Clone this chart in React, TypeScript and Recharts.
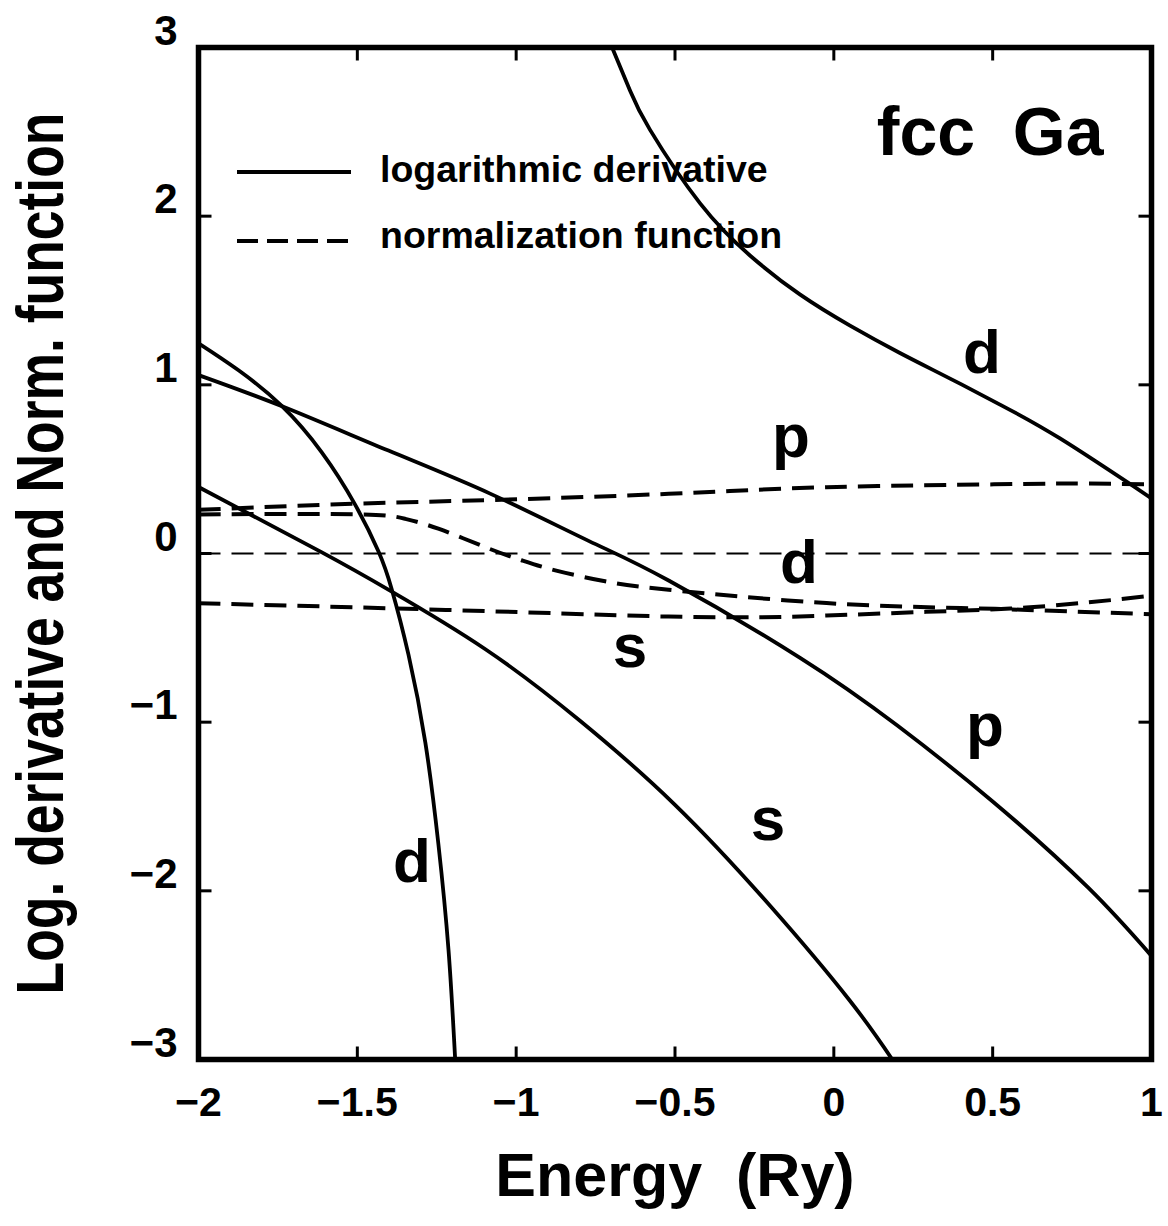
import React from 'react';
import { LineChart, Line, XAxis, YAxis, ReferenceLine, ReferenceDot, ReferenceArea } from 'recharts';

const FONT = '"Liberation Sans", Arial, Helvetica, sans-serif';

// axis settings
const X_DOMAIN: [number, number] = [-2, 1];
const Y_DOMAIN: [number, number] = [-3, 3];
const X_TICKS = [-2, -1.5, -1, -0.5, 0, 0.5, 1];
const Y_TICKS = [-3, -2, -1, 0, 1, 2, 3];

// logarithmic derivatives [energy (Ry), value]
const logDerivDUpper: [number, number][] = [
  [-0.698, 3.0], [-0.642, 2.747], [-0.579, 2.513], [-0.421, 2.076], [-0.264, 1.767],
  [-0.107, 1.536], [0.051, 1.351], [0.208, 1.189], [0.366, 1.037], [0.523, 0.883],
  [0.712, 0.682], [1.0, 0.327],
];
const logDerivDLower: [number, number][] = [
  [-2.0, 1.246], [-1.874, 1.086], [-1.738, 0.875], [-1.612, 0.6], [-1.507, 0.29],
  [-1.433, 0.01], [-1.392, -0.21], [-1.339, -0.6], [-1.286, -1.12],
  [-1.245, -1.72], [-1.213, -2.35], [-1.192, -3.0],
];
const logDerivP: [number, number][] = [
  [-2.0, 1.058], [-1.733, 0.87], [-1.402, 0.61], [-1.082, 0.355], [-0.772, 0.075],
  [-0.52, -0.16], [-0.105, -0.62], [0.2, -1.02], [0.5, -1.47], [0.8, -1.98], [1.0, -2.386],
];
const logDerivS: [number, number][] = [
  [-2.0, 0.394], [-1.613, 0.008], [-1.397, -0.22], [-1.098, -0.566], [-0.8, -0.99],
  [-0.5, -1.49], [-0.2, -2.09], [0.05, -2.65], [0.184, -3.0],
];

// normalization functions [energy (Ry), value]
const normP: [number, number][] = [
  [-2.0, 0.259], [-1.507, 0.295], [-1.046, 0.319], [-0.52, 0.354], [-0.023, 0.393],
  [0.504, 0.41], [0.75, 0.415], [1.0, 0.41],
];
const normD: [number, number][] = [
  [-2.0, 0.231], [-1.507, 0.233], [-1.35, 0.206], [-1.245, 0.147], [-1.087, 0.03],
  [-0.983, -0.04], [-0.877, -0.1], [-0.72, -0.165], [-0.52, -0.215],
  [-0.023, -0.294], [0.4, -0.323], [0.61, -0.335], [1.0, -0.36],
];
const normS: [number, number][] = [
  [-2.0, -0.295], [-1.507, -0.319], [-0.983, -0.348], [-0.52, -0.374], [-0.235, -0.378],
  [-0.023, -0.368], [0.29, -0.346], [0.556, -0.326], [0.8, -0.29], [1.0, -0.25],
];

// curve annotations [text, energy, value(baseline)]
const annotations: [string, number, number][] = [
  ['d', 0.466, 1.07],
  ['p', -0.135, 0.572],
  ['d', -0.11, -0.175],
  ['s', -0.642, -0.673],
  ['p', 0.476, -1.141],
  ['s', -0.207, -1.698],
  ['d', -1.328, -1.948],
];
const titleText = 'fcc  Ga';
const titlePos: [number, number] = [0.492, 2.363];

const legendItems = ['logarithmic derivative', 'normalization function'];
const xTitle = 'Energy  (Ry)';
const yTitle = 'Log. derivative and Norm. function';

const toPts = (arr: [number, number][]) => arr.map(([e, v]) => ({ e, v }));

const fmt = (v: number) => (v < 0 ? '\u2212' + String(Math.abs(v)) : String(v));

const XTick = (props: any) => {
  const { x, y, payload } = props;
  const v = payload.value;
  const edge = v === X_DOMAIN[0] || v === X_DOMAIN[1];
  return (
    <g>
      {!edge && <line x1={x} x2={x} y1={y} y2={y - 13} stroke="#000" strokeWidth={3} />}
      <text x={x} y={y + 56} textAnchor="middle" fontSize={41} fontWeight="bold" fontFamily={FONT} fill="#000">
        {fmt(v)}
      </text>
    </g>
  );
};

const YTick = (props: any) => {
  const { x, y, payload } = props;
  const v = payload.value;
  const edge = v === Y_DOMAIN[0] || v === Y_DOMAIN[1];
  return (
    <g>
      {!edge && <line x1={x} x2={x + 13} y1={y} y2={y} stroke="#000" strokeWidth={3} />}
      <text x={x - 21} y={y - 3} textAnchor="end" fontSize={42} fontWeight="bold" fontFamily={FONT} fill="#000">
        {fmt(v)}
      </text>
    </g>
  );
};

const TopTick = (props: any) => {
  const { x, y, payload } = props;
  const v = payload.value;
  if (v === X_DOMAIN[0] || v === X_DOMAIN[1]) return <g />;
  return <line x1={x} x2={x} y1={y} y2={y + 13} stroke="#000" strokeWidth={3} />;
};

const RightTick = (props: any) => {
  const { x, y, payload } = props;
  const v = payload.value;
  if (v === Y_DOMAIN[0] || v === Y_DOMAIN[1]) return <g />;
  return <line x1={x} x2={x - 13} y1={y} y2={y} stroke="#000" strokeWidth={3} />;
};

const makeAnnot = (text: string, size: number) => (p: any) => {
  const vb = p.viewBox || {};
  const cx = (vb.x || 0) + (vb.width || 0) / 2;
  const cy = (vb.y || 0) + (vb.height || 0) / 2;
  return (
    <text x={cx} y={cy} textAnchor="middle" fontSize={size} fontWeight="bold" fontFamily={FONT} fill="#000" style={{ whiteSpace: 'pre' }}>
      {text}
    </text>
  );
};

const XTitle = (p: any) => {
  const vb = p.viewBox;
  return (
    <text x={vb.x + vb.width / 2} y={vb.y + 136} textAnchor="middle" fontSize={61} fontWeight="bold" fontFamily={FONT} fill="#000" style={{ whiteSpace: 'pre' }}>
      {xTitle}
    </text>
  );
};

const YTitle = (p: any) => {
  const vb = p.viewBox;
  const cy = vb.y + vb.height / 2;
  return (
    <text transform={`translate(63, ${cy}) rotate(-90) scale(0.81, 1)`} x={0} y={0} textAnchor="middle" fontSize={66} fontWeight="bold" fontFamily={FONT} fill="#000">
      {yTitle}
    </text>
  );
};

const solid = { stroke: '#000', strokeWidth: 3.8, dot: false, isAnimationActive: false, type: 'natural' as const };
const dashed = { ...solid, strokeWidth: 4, strokeDasharray: '22 11' };

export default function App() {
  return (
    <div style={{ position: 'absolute', left: 0, top: 0, width: 1168, height: 1226, background: '#fff' }}>
      <LineChart width={1168} height={1226} margin={{ top: 46.5, right: 15.5, bottom: 0, left: 0 }}>
        <XAxis
          dataKey="e"
          type="number"
          domain={X_DOMAIN}
          ticks={X_TICKS}
          interval={0}
          allowDataOverflow
          height={166.5}
          tickSize={0}
          tickMargin={0}
          tickLine={false}
          axisLine={false}
          tick={<XTick />}
          label={{ content: XTitle }}
        />
        <XAxis
          xAxisId="top"
          orientation="top"
          dataKey="e"
          type="number"
          domain={X_DOMAIN}
          ticks={X_TICKS}
          interval={0}
          allowDataOverflow
          height={1}
          tickSize={0}
          tickMargin={0}
          tickLine={false}
          axisLine={false}
          tick={<TopTick />}
        />
        <YAxis
          type="number"
          domain={Y_DOMAIN}
          ticks={Y_TICKS}
          interval={0}
          allowDataOverflow
          width={198.5}
          tickSize={0}
          tickMargin={0}
          tickLine={false}
          axisLine={false}
          tick={<YTick />}
          label={{ content: YTitle }}
        />
        <YAxis
          yAxisId="right"
          orientation="right"
          type="number"
          domain={Y_DOMAIN}
          ticks={Y_TICKS}
          interval={0}
          allowDataOverflow
          width={1}
          tickSize={0}
          tickMargin={0}
          tickLine={false}
          axisLine={false}
          tick={<RightTick />}
        />
        <ReferenceLine y={0} stroke="#000" strokeWidth={2} strokeDasharray="22 11" />
        <Line data={toPts(logDerivDUpper)} dataKey="v" {...solid} />
        <Line data={toPts(logDerivDLower)} dataKey="v" {...solid} />
        <Line data={toPts(logDerivP)} dataKey="v" {...solid} />
        <Line data={toPts(logDerivS)} dataKey="v" {...solid} />
        <Line data={toPts(normP)} dataKey="v" {...dashed} />
        <Line data={toPts(normD)} dataKey="v" {...dashed} />
        <Line data={toPts(normS)} dataKey="v" {...dashed} />
        <ReferenceArea
          x1={X_DOMAIN[0]}
          x2={X_DOMAIN[1]}
          y1={Y_DOMAIN[0]}
          y2={Y_DOMAIN[1]}
          fill="none"
          fillOpacity={0}
          stroke="#000"
          strokeWidth={5.5}
          ifOverflow="visible"
        />
        {annotations.map(([t, e, v], i) => (
          <ReferenceDot key={i} x={e} y={v} r={0.5} fill="none" stroke="none" label={{ content: makeAnnot(t, 62) }} />
        ))}
        <ReferenceDot x={titlePos[0]} y={titlePos[1]} r={0.5} fill="none" stroke="none" label={{ content: makeAnnot(titleText, 68) }} />
      </LineChart>
      <svg width={1168} height={300} style={{ position: 'absolute', left: 0, top: 0, pointerEvents: 'none' }}>
        <line x1={237} x2={351} y1={172} y2={172} stroke="#000" strokeWidth={3.8} />
        <text x={380} y={182} fontSize={37.5} fontWeight="bold" fontFamily={FONT} fill="#000">{legendItems[0]}</text>
        <line x1={237} x2={351} y1={241} y2={241} stroke="#000" strokeWidth={3.8} strokeDasharray="21 9" />
        <text x={380} y={248} fontSize={37.5} fontWeight="bold" fontFamily={FONT} fill="#000">{legendItems[1]}</text>
      </svg>
    </div>
  );
}
